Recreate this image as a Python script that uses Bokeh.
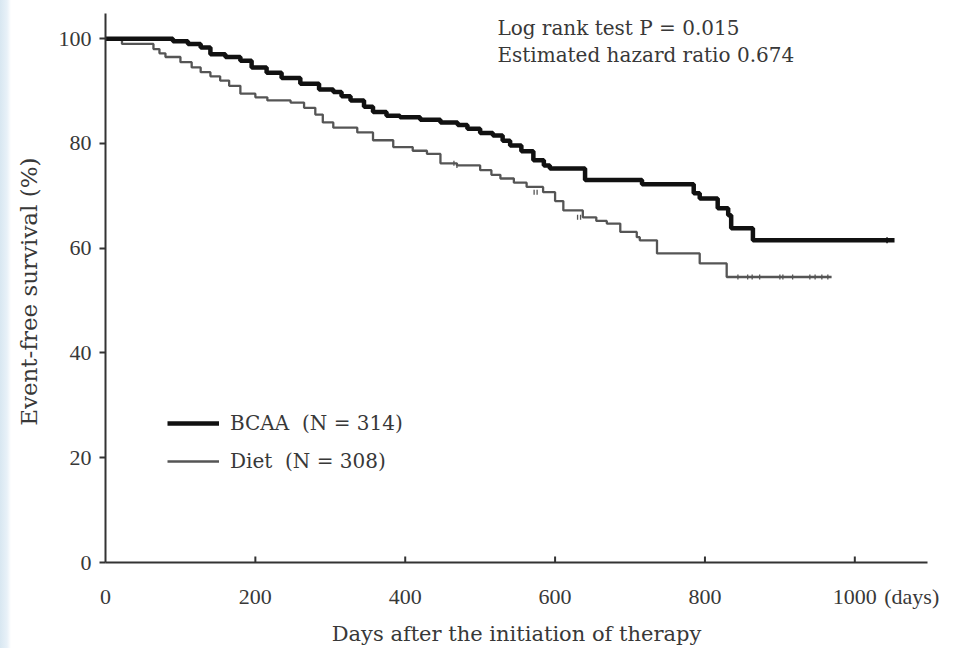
import math
from bokeh.plotting import figure
from bokeh.models import Legend, LegendItem, Range1d, FixedTicker, Label
from bokeh.embed import file_html
from bokeh.resources import INLINE

# ---- data ----
bcaa_days = [0, 90, 110, 127, 140, 160, 180, 195, 215, 235, 260, 285, 304, 315, 327,
             345, 357, 375, 393, 420, 447, 470, 483, 500, 517, 530, 540, 555, 571,
             585, 593, 640, 716, 785, 793, 817, 831, 835, 864, 1053]
bcaa_surv = [100, 99.5, 99, 98.3, 97, 96.5, 95.8, 94.5, 93.5, 92.5, 91.4, 90.3, 89.8,
             89, 88.2, 87, 86, 85.3, 85, 84.5, 84, 83.5, 82.8, 82, 81.5, 80.5, 79.6,
             78.5, 76.8, 75.8, 75.2, 73, 72.2, 70.5, 69.5, 67.6, 66.3, 63.8, 61.5, 61.5]

diet_days = [0, 22, 64, 72, 80, 100, 115, 127, 140, 153, 165, 180, 200, 216, 247, 265,
             280, 290, 304, 336, 357, 384, 410, 429, 447, 469, 500, 515, 527, 545, 562,
             584, 600, 611, 637, 655, 669, 687, 709, 713, 736, 793, 829, 969]
diet_surv = [100, 99, 98, 97.2, 96.5, 95.5, 94.5, 93.6, 92.8, 92, 91, 89.5, 88.8, 88.2,
             87.8, 86.8, 85.5, 84, 83, 82.1, 80.6, 79.3, 78.6, 78, 76.2, 75.8, 74.9, 74,
             73.3, 72.5, 71.7, 70.7, 69, 67.2, 65.9, 65.2, 64.7, 63.1, 62.1, 61.5, 59,
             57.1, 54.5, 54.5]

diet_censor_days = [465, 469, 572, 576, 630, 634, 844, 857, 863, 873, 900, 904, 917,
                    940, 947, 956, 964]
diet_censor_surv = [76.2, 75.8, 70.7, 70.7, 65.9, 65.9, 54.5, 54.5, 54.5, 54.5, 54.5,
                    54.5, 54.5, 54.5, 54.5, 54.5, 54.5]
bcaa_censor_days = [1043]
bcaa_censor_surv = [61.5]

x_ticks = [0, 200, 400, 600, 800, 1000]
x_unit_pos = 1076          # where the "(days)" unit sits along the x axis
x_unit_text = "(days)"
y_ticks = [0, 20, 40, 60, 80, 100]

TICK_FONT = "Liberation Serif"
FONT = "DejaVu Serif"
TXT = "#383838"
AXIS = "#333333"

p = figure(width=945, height=648, output_backend="svg", toolbar_location=None,
           x_range=Range1d(0, 1097), y_range=Range1d(0, 104.8),
           min_border_left=105, min_border_right=18, min_border_top=13,
           min_border_bottom=86)
p.outline_line_color = None
p.grid.visible = False
p.border_fill_color = None
p.background_fill_color = "white"
# faint blue strip along the left edge of the page
p.styles = {"background": "linear-gradient(to right, #d8e7f1 0px, #e8f1f8 7px, #ffffff 11px, #ffffff 100%)"}

# axes
for ax in (p.xaxis, p.yaxis):
    ax.axis_line_color = AXIS
    ax.axis_line_width = 2
    ax.major_tick_line_color = AXIS
    ax.major_tick_line_width = 2
    ax.minor_tick_line_color = None
    ax.major_label_text_font = TICK_FONT
    ax.major_label_text_font_size = "22px"
    ax.major_label_text_color = TXT
    ax.axis_label_text_font = FONT
    ax.axis_label_text_font_style = "normal"
    ax.axis_label_text_color = TXT

# x axis: labels (plus the unit) from the axis, inward tick marks drawn as segments
p.xaxis.ticker = FixedTicker(ticks=x_ticks + [x_unit_pos])
p.xaxis.major_label_overrides = {x_unit_pos: x_unit_text}
p.xaxis.major_tick_in = 0
p.xaxis.major_tick_out = 0
p.xaxis.major_label_standoff = 21
p.xaxis.axis_label = "Days after the initiation of therapy"
p.xaxis.axis_label_text_font_size = "21px"
p.xaxis.axis_label_standoff = 10

tick_len = 6 / (549 / 104.8)   # 6 px expressed in data units
p.segment(x0=x_ticks[1:], y0=[0] * (len(x_ticks) - 1), x1=x_ticks[1:],
          y1=[tick_len] * (len(x_ticks) - 1), line_color=AXIS, line_width=2)

p.yaxis.ticker = FixedTicker(ticks=y_ticks)
p.yaxis.major_tick_in = 0
p.yaxis.major_tick_out = 6
p.yaxis.major_label_standoff = 8
p.yaxis.axis_label = "Event-free survival  (%)"
p.yaxis.axis_label_text_font_size = "23px"
p.yaxis.axis_label_standoff = 14

# curves
r_diet = p.step(diet_days, diet_surv, mode="after", line_color="#555555", line_width=2.3)
r_bcaa = p.step(bcaa_days, bcaa_surv, mode="after", line_color="#111111", line_width=4.5)

p.scatter(diet_censor_days, diet_censor_surv, marker="dash", angle=math.pi / 2,
          size=5, line_color="#555555", line_width=1.3)
p.scatter(bcaa_censor_days, bcaa_censor_surv, marker="dash", angle=math.pi / 2,
          size=6, line_color="#111111", line_width=1.5)

legend = Legend(items=[LegendItem(label="BCAA  (N = 314)", renderers=[r_bcaa]),
                       LegendItem(label="Diet  (N = 308)", renderers=[r_diet])],
                location=(62, 89), orientation="vertical")
legend.border_line_color = None
legend.background_fill_alpha = 0
legend.padding = 0
legend.margin = 0
legend.glyph_width = 52
legend.glyph_height = 20
legend.label_height = 20
legend.spacing = 14
legend.label_standoff = 11
legend.label_text_font = FONT
legend.label_text_font_size = "20px"
legend.label_text_color = TXT
p.add_layout(legend)

# annotations
p.add_layout(Label(x=523, y=102.1, text="Log rank test P = 0.015", text_font=FONT,
                   text_font_size="20px", text_color=TXT, text_baseline="middle"))
p.add_layout(Label(x=523, y=96.8, text="Estimated hazard ratio 0.674", text_font=FONT,
                   text_font_size="20px", text_color=TXT, text_baseline="middle"))

open("out.html", "w").write(file_html(p, INLINE))
